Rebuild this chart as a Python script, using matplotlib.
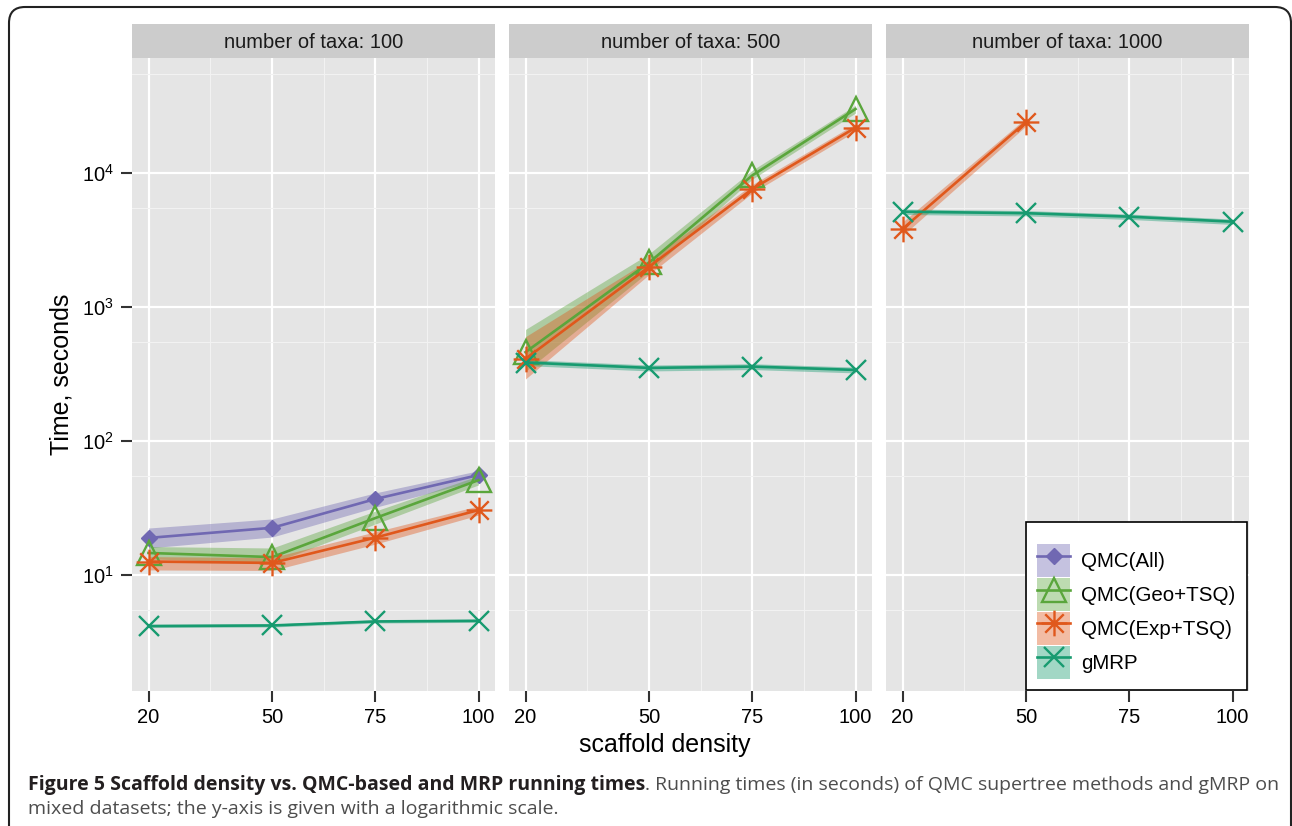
import numpy as np
import matplotlib
matplotlib.use("Agg")
import matplotlib.pyplot as plt
from matplotlib.path import Path
from matplotlib.patches import Patch, FancyBboxPatch
from matplotlib.lines import Line2D
from matplotlib.ticker import FixedLocator, FixedFormatter, NullFormatter

W, H = 1292, 826

density = [20, 50, 75, 100]
taxa = [100, 500, 1000]
methods = ["QMC(All)", "QMC(Geo+TSQ)", "QMC(Exp+TSQ)", "gMRP"]

# running times in seconds: mean, ribbon low, ribbon high
all_100 = [18.9, 22.5, 36.9, 55.7]
all_100_lo = [15.9, 19.2, 32.0, 51.0]
all_100_hi = [22.4, 26.2, 41.0, 60.0]
geo_100 = [14.6, 13.6, 26.6, 51.0]
geo_100_lo = [13.2, 12.3, 24.0, 47.0]
geo_100_hi = [16.3, 15.9, 30.0, 55.0]
exp_100 = [12.6, 12.3, 19.0, 30.5]
exp_100_lo = [10.9, 10.8, 17.0, 28.0]
exp_100_hi = [13.7, 13.5, 21.0, 32.8]
gmrp_100 = [4.16, 4.20, 4.50, 4.55]
gmrp_100_lo = [4.05, 4.09, 4.38, 4.43]
gmrp_100_hi = [4.27, 4.31, 4.62, 4.67]

geo_500 = [460, 2150, 9600, 30000]
geo_500_lo = [330, 1850, 9000, 28000]
geo_500_hi = [680, 2500, 10500, 32000]
exp_500 = [410, 2000, 7600, 21800]
exp_500_lo = [290, 1750, 7100, 20500]
exp_500_hi = [600, 2250, 8200, 23300]
gmrp_500 = [385, 351, 359, 339]
gmrp_500_lo = [365, 333, 341, 322]
gmrp_500_hi = [405, 369, 377, 356]

exp_1000 = [3820, 24100]
exp_1000_lo = [3400, 22500]
exp_1000_hi = [4300, 25800]
gmrp_1000 = [5140, 5010, 4720, 4330]
gmrp_1000_lo = [4900, 4780, 4500, 4130]
gmrp_1000_hi = [5380, 5240, 4940, 4530]

y_major = [10, 100, 1000, 10000]
y_labels = [r"$\mathregular{10^{1}}$", r"$\mathregular{10^{2}}$",
            r"$\mathregular{10^{3}}$", r"$\mathregular{10^{4}}$"]
y_minor = [5.5, 55, 550, 5500, 55000]
x_minor = [35, 62.5, 87.5]

data = {
    (100, "QMC(All)"): (all_100, all_100_lo, all_100_hi),
    (100, "QMC(Geo+TSQ)"): (geo_100, geo_100_lo, geo_100_hi),
    (100, "QMC(Exp+TSQ)"): (exp_100, exp_100_lo, exp_100_hi),
    (100, "gMRP"): (gmrp_100, gmrp_100_lo, gmrp_100_hi),
    (500, "QMC(Geo+TSQ)"): (geo_500, geo_500_lo, geo_500_hi),
    (500, "QMC(Exp+TSQ)"): (exp_500, exp_500_lo, exp_500_hi),
    (500, "gMRP"): (gmrp_500, gmrp_500_lo, gmrp_500_hi),
    (1000, "QMC(Exp+TSQ)"): (exp_1000, exp_1000_lo, exp_1000_hi),
    (1000, "gMRP"): (gmrp_1000, gmrp_1000_lo, gmrp_1000_hi),
}

colors = {"QMC(All)": "#7068B2", "QMC(Geo+TSQ)": "#5AA63C",
          "QMC(Exp+TSQ)": "#E0581C", "gMRP": "#179B70"}

# eight-armed asterisk: plus overlaid with a shorter cross
d = 0.72
asterisk = Path([(-1, 0), (1, 0), (0, -1), (0, 1),
                 (-d, -d), (d, d), (-d, d), (d, -d)],
                [Path.MOVETO, Path.LINETO] * 4)

marker_style = {
    "QMC(All)": dict(marker="D", ms=8.5, mfc=colors["QMC(All)"], mew=1.0),
    "QMC(Geo+TSQ)": dict(marker="^", ms=17, mfc="none", mew=1.7),
    "QMC(Exp+TSQ)": dict(marker=asterisk, ms=18.5, mfc="none", mew=1.7),
    "gMRP": dict(marker="x", ms=15, mfc="none", mew=1.7),
}

plt.rcParams["font.family"] = ["Liberation Sans", "DejaVu Sans"]
plt.rcParams["mathtext.fontset"] = "custom"
plt.rcParams["mathtext.rm"] = "Liberation Sans"
plt.rcParams["mathtext.it"] = "Liberation Sans:italic"
plt.rcParams["mathtext.bf"] = "Liberation Sans:bold"

fig = plt.figure(figsize=(W / 100, H / 100), dpi=100)


def box(x0, y0, x1, y1):
    # pixel box (top-left origin) to figure fraction rect
    return [x0 / W, 1 - y1 / H, (x1 - x0) / W, (y1 - y0) / H]


panel_x = [(132, 495), (509, 872), (886, 1249)]
axes = []
for i, (n, (x0, x1)) in enumerate(zip(taxa, panel_x)):
    ax = fig.add_axes(box(x0, 58, x1, 691))
    axes.append(ax)
    ax.set_facecolor("#E5E5E5")
    for s in ax.spines.values():
        s.set_visible(False)
    ax.set_yscale("log")
    ax.set_xlim(16, 104)
    ax.set_ylim(1.362, 72100)
    ax.yaxis.set_major_locator(FixedLocator(y_major))
    ax.yaxis.set_major_formatter(FixedFormatter(y_labels))
    ax.yaxis.set_minor_locator(FixedLocator(y_minor))
    ax.yaxis.set_minor_formatter(NullFormatter())
    ax.set_xticks(density)
    ax.set_xticks(x_minor, minor=True)
    ax.grid(which="major", color="white", lw=1.6)
    ax.grid(which="minor", color="#F2F2F2", lw=0.8)
    ax.set_axisbelow(True)
    ax.tick_params(which="major", direction="out", length=8, width=1.5,
                   color="#333333", labelsize=14.5, labelcolor="black")
    ax.tick_params(axis="x", which="major", pad=4)
    ax.tick_params(axis="y", which="major", pad=5)
    ax.tick_params(which="minor", length=0)
    if i > 0:
        ax.tick_params(axis="y", which="both", left=False, labelleft=False)

    for m in methods:
        if (n, m) not in data:
            continue
        mean, lo, hi = data[(n, m)]
        ax.fill_between(density[:len(mean)], lo, hi, color=colors[m],
                        alpha=0.4, lw=0)
    for m in methods:
        if (n, m) not in data:
            continue
        mean, lo, hi = data[(n, m)]
        ax.plot(density[:len(mean)], mean, color=colors[m], lw=1.9,
                mec=colors[m], **marker_style[m])

    strip = fig.add_axes(box(x0, 24, x1, 58))
    strip.set_facecolor("#CCCCCC")
    strip.set_xticks([])
    strip.set_yticks([])
    for s in strip.spines.values():
        s.set_visible(False)
    strip.text(0.5, 0.47, f"number of taxa: {n}", ha="center", va="center",
               fontsize=14.5, color="#1A1A1A")

fig.text(62 / W, 1 - 374 / H, "Time, seconds", rotation=90, ha="center",
         va="center", fontsize=18)
fig.text(665 / W, 1 - 745 / H, "scaffold density", ha="center",
         va="center", fontsize=18)

handles = []
for m in methods:
    handles.append((Patch(facecolor=colors[m], alpha=0.4, lw=0),
                    Line2D([], [], color=colors[m], lw=1.9, mec=colors[m],
                           **marker_style[m])))
leg = fig.legend(handles, methods, loc="lower right",
                 bbox_to_anchor=(1247 / W, 1 - 690 / H), borderaxespad=0,
                 fontsize=14.8, frameon=True, fancybox=False,
                 edgecolor="black", framealpha=1, handlelength=1.6,
                 handleheight=2.08, handletextpad=0.55, labelspacing=0.05,
                 borderpad=0.55, title=" ", title_fontsize=7)
leg.get_frame().set_linewidth(1.2)

# outer rounded frame, drawn in pixel coordinates
frame = FancyBboxPatch((9, -30), 1282, H - 7 + 30,
                       boxstyle="round,pad=0,rounding_size=16",
                       transform=None, fill=False, lw=1.5, ec="#222222")
fig.patches.append(frame)

# caption
cap_bold = "Figure 5 Scaffold density vs. QMC-based and MRP running times"
cap_rest = (". Running times (in seconds) of QMC supertree methods and "
            "gMRP on")
cap_line2 = "mixed datasets; the y-axis is given with a logarithmic scale."
cap_font = ["Open Sans", "DejaVu Sans"]
size = 12.5
t1 = fig.text(28 / W, 1 - 790 / H, cap_bold, family=cap_font, weight="bold",
              fontsize=size, color="#231F20", va="baseline")
t2 = fig.text(0, 1 - 790 / H, cap_rest, family=cap_font, fontsize=size,
              color="#4D4D4D", va="baseline")
t3 = fig.text(28 / W, 1 - 814 / H, cap_line2, family=cap_font,
              fontsize=size, color="#4D4D4D", va="baseline")
r = fig.canvas.get_renderer()
total = t1.get_window_extent(r).width + t2.get_window_extent(r).width
size = size * 1250 / total
for t in (t1, t2, t3):
    t.set_fontsize(size)
t2.set_x(t1.get_window_extent(r).x1 / W)

fig.savefig("out.png", dpi=100)
